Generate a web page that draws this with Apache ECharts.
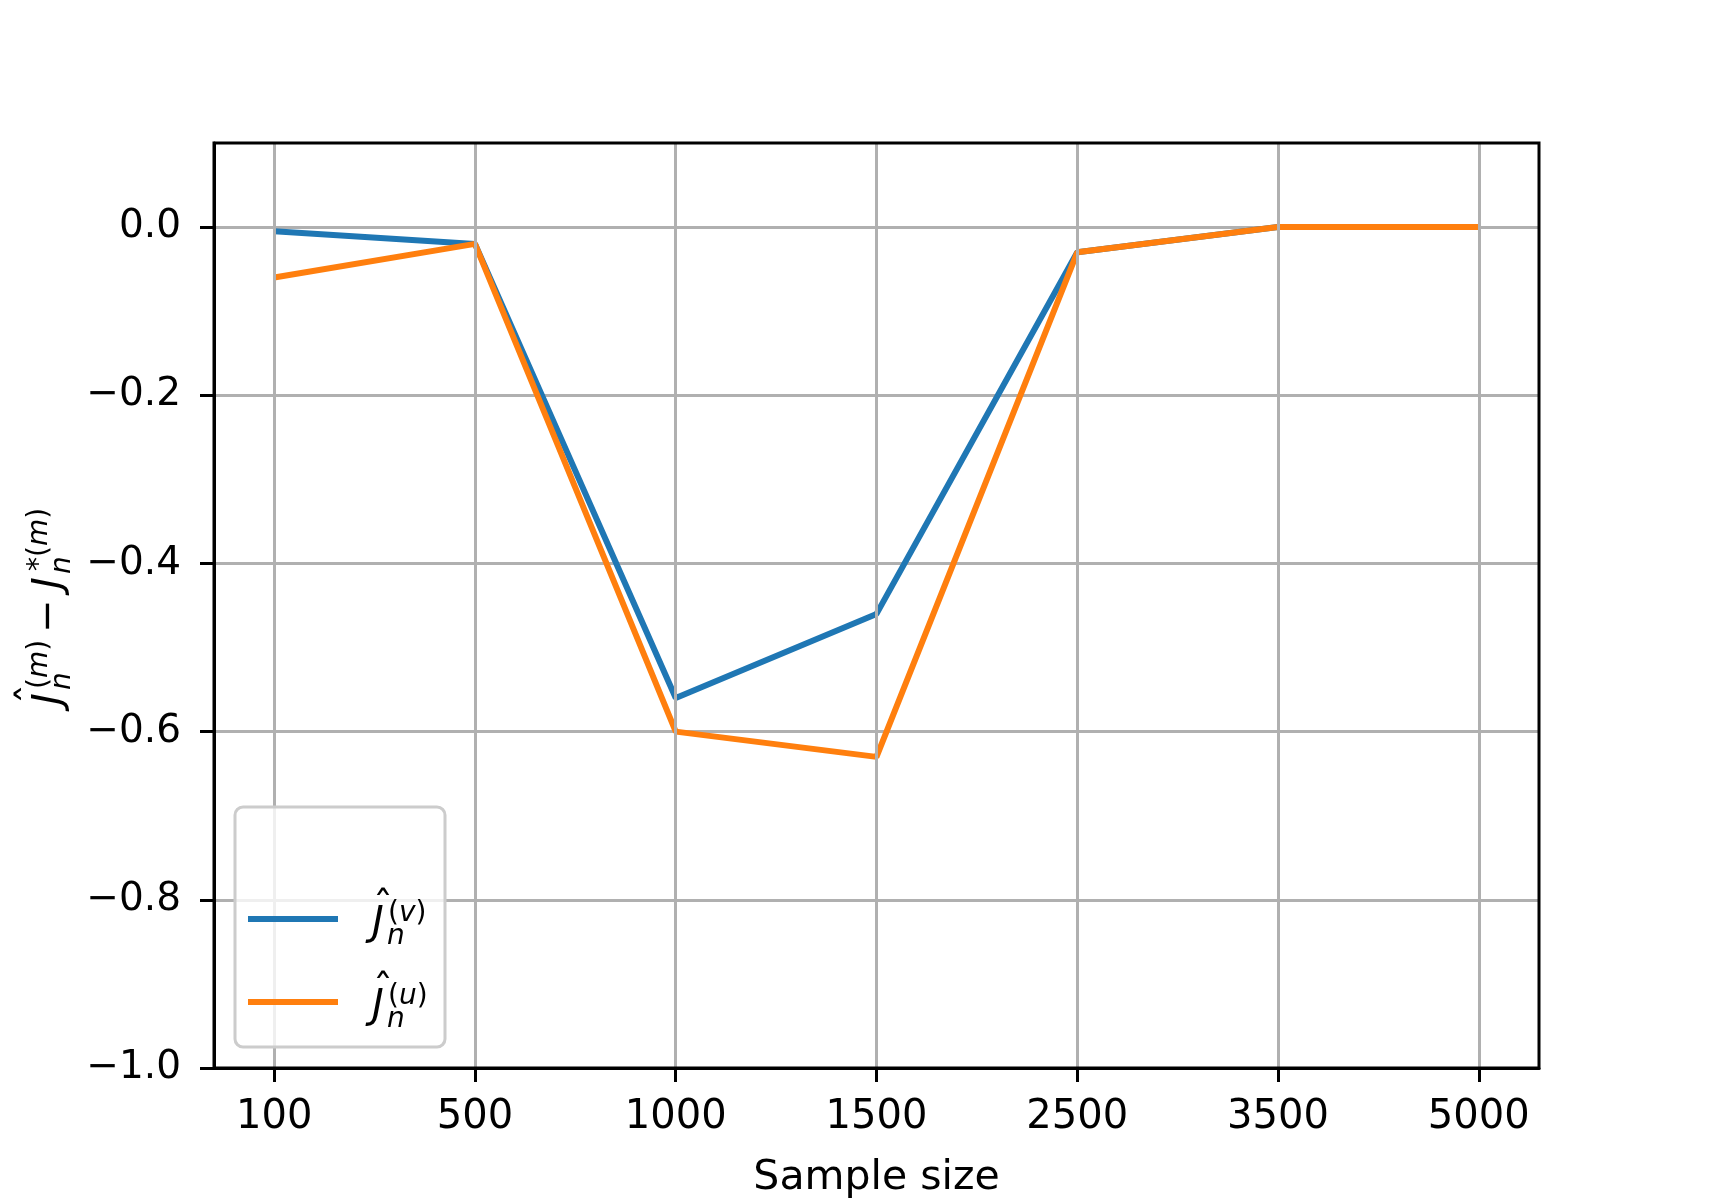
<!DOCTYPE html>
<html><head><meta charset="utf-8">
<script src="https://cdn.jsdelivr.net/npm/echarts@6/dist/echarts.min.js"></script>
<style>html,body{margin:0;padding:0;background:#fff}#c{width:1710px;height:1200px}</style>
</head><body><div id="c"></div>
<script>
const categories = ['100', '500', '1000', '1500', '2500', '3500', '5000'];
const seriesV = [-0.005, -0.02, -0.56, -0.46, -0.03, 0.0, 0.0];
const seriesU = [-0.06, -0.02, -0.60, -0.63, -0.03, 0.0, 0.0];
const yTicks = [-1.0, -0.8, -0.6, -0.4, -0.2, 0.0];
const xIdx = categories.map((c, i) => i);

const FONT = 'DejaVu Sans';
const BLUE = '#1f77b4', ORANGE = '#ff7f0e';
const MAIN = 40, SUP = 28;
const X_MIN = -0.3, X_MAX = 6.3, Y_MIN = -1.0, Y_MAX = 0.1;

function fmtY(v) {
  const r = Math.round(v * 10) / 10;
  return (r < 0 ? '\u2212' : '') + Math.abs(r).toFixed(1);
}

function txt(x, y, str, size, italic, align) {
  return { type: 'text', x: x, y: y, z: 51, style: { text: str, fontFamily: FONT, fontSize: size,
    fontStyle: italic ? 'italic' : 'normal', fill: '#000', textAlign: align || 'left', textVerticalAlign: 'middle' } };
}
function supText(x, y, letter, star) {
  return { type: 'text', x: x, y: y, z: 51, style: {
    text: (star ? '{a|*}' : '') + '{a|(}{b|' + letter + '}{a|)}',
    fill: '#000', textAlign: 'left', textVerticalAlign: 'middle',
    rich: { a: { fontFamily: FONT, fontSize: SUP, fill: '#000' },
            b: { fontFamily: FONT, fontSize: SUP, fontStyle: 'italic', fill: '#000' } } } };
}
// J (optionally hatted) with sub n and sup (letter); (x, c) = left of J, cap-centre line
function jTerm(x, c, letter, hat, star) {
  const out = [txt(x + 10, c + 1, 'J', MAIN, true, 'center')];
  if (hat) out.push(txt(x + 15, c - 14, '\u02C6', MAIN, false, 'center'));
  out.push(supText(x + 20 + (star ? 2 : 0), c - 10, letter, star));
  out.push(txt(x + 19, c + 13, 'n', SUP, true));
  return out;
}

// legend entries
const legendItems = [{ color: BLUE, letter: 'v', y: 919 }, { color: ORANGE, letter: 'u', y: 1002 }];
const legendChildren = [{
  type: 'rect', shape: { x: 235, y: 807, width: 210, height: 240, r: 8 },
  style: { fill: 'rgba(255,255,255,0.8)', stroke: '#cccccc', lineWidth: 3 }, z: 50
}];
legendItems.forEach(it => {
  legendChildren.push({ type: 'line', shape: { x1: 248, y1: it.y, x2: 338, y2: it.y },
    style: { stroke: it.color, lineWidth: 6 }, z: 51 });
  jTerm(368, it.y + 5, it.letter, true, false).forEach(e => legendChildren.push(e));
});

// y axis label (rotated)
const yChildren = [].concat(
  jTerm(0, 0, 'm', true, false),
  [txt(93, 0, '\u2212', MAIN, false, 'center')],
  jTerm(116, 0, 'm', false, true)
);
const yLabel = { type: 'group', x: 50, y: 709, rotation: Math.PI / 2, z: 50, children: yChildren };

const chart = echarts.init(document.getElementById('c'), null, { renderer: 'canvas' });
chart.setOption({
  animation: false,
  backgroundColor: '#fff',
  grid: { left: 214, right: 171, top: 143, bottom: 132, containLabel: false, outerBoundsMode: 'none' },
  xAxis: {
    type: 'value', min: X_MIN, max: X_MAX,
    name: 'Sample size', nameLocation: 'middle', nameGap: 90,
    nameTextStyle: { fontFamily: FONT, fontSize: 41, color: '#000' },
    axisLine: { show: true, onZero: false, lineStyle: { color: '#000', width: 3 } },
    axisTick: { show: true, customValues: xIdx, length: 14, lineStyle: { color: '#000', width: 3 } },
    axisLabel: { customValues: xIdx, formatter: v => categories[Math.round(v)], margin: 30,
      fontFamily: FONT, fontSize: 40, color: '#000' },
    splitLine: { show: false }
  },
  yAxis: {
    type: 'value', min: Y_MIN, max: Y_MAX, interval: 0.2,
    axisLine: { show: true, onZero: false, lineStyle: { color: '#000', width: 3 } },
    axisTick: { show: true, customValues: yTicks, length: 14, lineStyle: { color: '#000', width: 3 } },
    axisLabel: { customValues: yTicks, formatter: fmtY, margin: 33,
      fontFamily: FONT, fontSize: 39, color: '#000' },
    splitLine: { show: true, lineStyle: { color: '#b0b0b0', width: 3 } }
  },
  series: [
    { type: 'line', name: 'grid', data: [], z: 1, silent: true,
      markLine: { silent: true, symbol: 'none', animation: false, label: { show: false },
        lineStyle: { color: '#b0b0b0', width: 3, type: 'solid' },
        emphasis: { disabled: true },
        data: xIdx.map(i => ({ xAxis: i })) } },
    { type: 'line', name: 'v', data: seriesV.map((v, i) => [i, v]), showSymbol: false, z: 3,
      lineStyle: { color: BLUE, width: 6 }, itemStyle: { color: BLUE } },
    { type: 'line', name: 'u', data: seriesU.map((v, i) => [i, v]), showSymbol: false, z: 4,
      lineStyle: { color: ORANGE, width: 6 }, itemStyle: { color: ORANGE } }
  ],
  graphic: [
    { type: 'group', children: legendChildren },
    yLabel
  ]
});
// frame drawn on the real plot rectangle
const x0 = chart.convertToPixel({ xAxisIndex: 0 }, X_MIN);
const x1 = chart.convertToPixel({ xAxisIndex: 0 }, X_MAX);
const y0 = chart.convertToPixel({ yAxisIndex: 0 }, Y_MAX);
const y1 = chart.convertToPixel({ yAxisIndex: 0 }, Y_MIN);
chart.setOption({ graphic: [
  { type: 'group', children: legendChildren },
  yLabel,
  { type: 'rect', shape: { x: x0, y: y0, width: x1 - x0, height: y1 - y0 },
    style: { fill: 'none', stroke: '#000', lineWidth: 3 }, z: 60, silent: true }
] });
</script></body></html>
